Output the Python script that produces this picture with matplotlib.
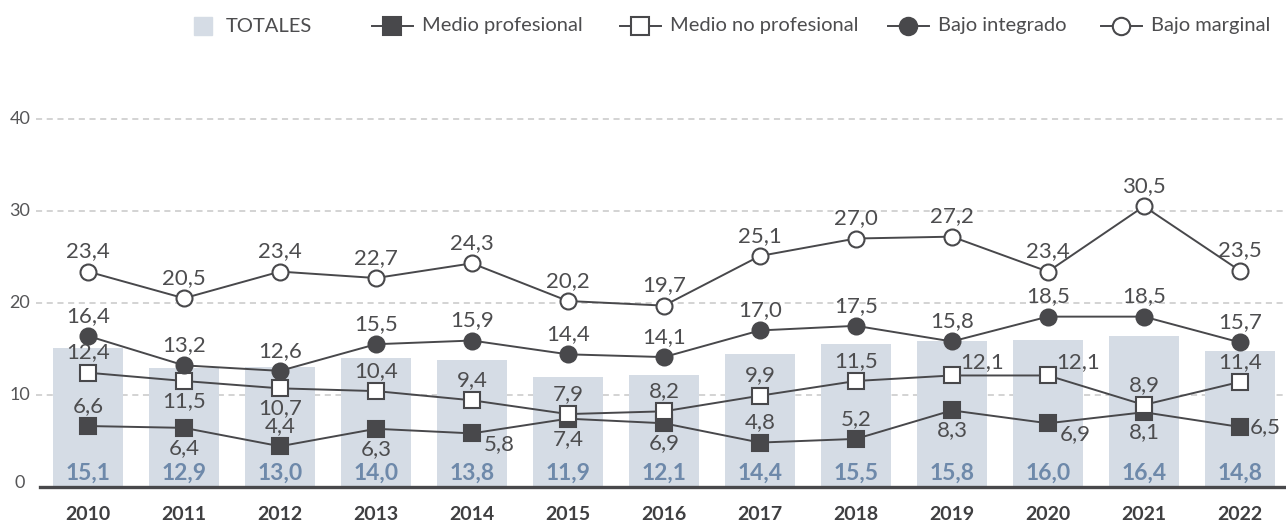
import matplotlib
matplotlib.use("Agg")
import matplotlib.pyplot as plt
from matplotlib.lines import Line2D

plt.rcParams['font.family'] = ['Lato', 'DejaVu Sans']

years = ['2010', '2011', '2012', '2013', '2014', '2015', '2016',
         '2017', '2018', '2019', '2020', '2021', '2022']
totales = [15.1, 12.9, 13.0, 14.0, 13.8, 11.9, 12.1, 14.4, 15.5, 15.8, 16.0, 16.4, 14.8]
medio_prof = [6.6, 6.4, 4.4, 6.3, 5.8, 7.4, 6.9, 4.8, 5.2, 8.3, 6.9, 8.1, 6.5]
medio_no_prof = [12.4, 11.5, 10.7, 10.4, 9.4, 7.9, 8.2, 9.9, 11.5, 12.1, 12.1, 8.9, 11.4]
bajo_integrado = [16.4, 13.2, 12.6, 15.5, 15.9, 14.4, 14.1, 17.0, 17.5, 15.8, 18.5, 18.5, 15.7]
bajo_marginal = [23.4, 20.5, 23.4, 22.7, 24.3, 20.2, 19.7, 25.1, 27.0, 27.2, 23.4, 30.5, 23.5]
y_ticks = [0, 10, 20, 30, 40]

# where each point label sits: a=above, b=below, r=right/down, ru=right/up, rr=right
pos_medio_prof = ['a', 'b', 'a', 'b', 'r', 'b', 'b', 'a', 'a', 'b', 'r', 'b', 'rr']
pos_medio_no_prof = ['a', 'b', 'b', 'a', 'a', 'a', 'a', 'a', 'a', 'ru', 'ru', 'a', 'a']
pos_integrado = ['a'] * 13
pos_marginal = ['a'] * 13

dark = "#48484b"
text_col = "#4d4d4f"
bar_col = "#d5dce5"
bar_text = "#6e89aa"
grid_col = "#c8c8c8"

fig = plt.figure(figsize=(12.86, 5.24), dpi=100)
ax = fig.add_axes([40 / 1286, 1 - 486.7 / 524, 1 - 40 / 1286, (486.7 - 119) / 524])

x = list(range(len(years)))
ax.set_xlim(-0.5, 12.48)
ax.set_ylim(0, 40)

for v in y_ticks[1:]:
    ax.axhline(v, xmin=-0.003, xmax=1, color=grid_col, lw=1.1, ls=(0, (4, 3)),
               clip_on=False, zorder=0)

ax.bar(x, totales, width=0.73, color=bar_col, zorder=1)
for xi, v in zip(x, totales):
    ax.annotate(f"{v:.1f}".replace('.', ','), (xi, 0), xytext=(0, 10),
                textcoords='offset points', ha='center', va='center',
                fontsize=16.5, fontweight='bold', color=bar_text, zorder=5)

series = [
    (medio_prof, pos_medio_prof, 's', dark, 12),
    (medio_no_prof, pos_medio_no_prof, 's', 'white', 12),
    (bajo_integrado, pos_integrado, 'o', dark, 11.5),
    (bajo_marginal, pos_marginal, 'o', 'white', 11.5),
]

offsets = {
    'a': ((0, 14.5), 'center'),
    'b': ((0, -14.5), 'center'),
    'r': ((8.5, -8), 'left'),
    'ru': ((6, 9.5), 'left'),
    'rr': ((7, 0), 'left'),
}

for i, (vals, pos, mk, face, ms) in enumerate(series):
    ax.plot(x, vals, color=dark, lw=1.4, marker=mk, markersize=ms,
            markerfacecolor=face, markeredgecolor=dark, markeredgewidth=1.5,
            zorder=3 + i)
    for xi, v, p in zip(x, vals, pos):
        off, ha = offsets[p]
        ax.annotate(f"{v:.1f}".replace('.', ','), (xi, v), xytext=off,
                    textcoords='offset points', ha=ha, va='center',
                    fontsize=16, color=text_col, zorder=10)

for s in ['top', 'right', 'left']:
    ax.spines[s].set_visible(False)
ax.spines['bottom'].set_color(dark)
ax.spines['bottom'].set_linewidth(2.4)
ax.spines['bottom'].set_zorder(6)

ax.set_xticks(x)
ax.set_xticklabels(years, fontsize=14, fontweight='bold', color="#3f3f41")
ax.tick_params(axis='x', length=0, pad=14)
ax.set_yticks([])
for v in y_ticks:
    ax.text(-20 / 1246, v + (0.4 if v == 0 else 0), str(v),
            transform=ax.get_yaxis_transform(), ha='center', va='center',
            fontsize=13, color="#555557")

# legend across the top
ly = 1 - 26 / 524
def px(v):
    return v / 1286

fig.add_artist(Line2D([px(203)], [ly], marker='s', markersize=13.5, ls='none',
                      color=bar_col))
fig.text(px(226), ly, "TOTALES", ha='left', va='center', fontsize=14.5, color=text_col)

legend_items = [
    (372, 's', dark, "Medio profesional"),
    (620, 's', 'white', "Medio no profesional"),
    (888, 'o', dark, "Bajo integrado"),
    (1101, 'o', 'white', "Bajo marginal"),
]
for x0, mk, face, label in legend_items:
    fig.add_artist(Line2D([px(x0), px(x0 + 41)], [ly, ly], color=dark, lw=1.4))
    fig.add_artist(Line2D([px(x0 + 20)], [ly], marker=mk, markersize=12.5,
                          markerfacecolor=face, markeredgecolor=dark,
                          markeredgewidth=1.5, ls='none'))
    fig.text(px(x0 + 50), ly, label, ha='left', va='center', fontsize=14.5,
             color=text_col)

fig.savefig("out.png", dpi=100)
